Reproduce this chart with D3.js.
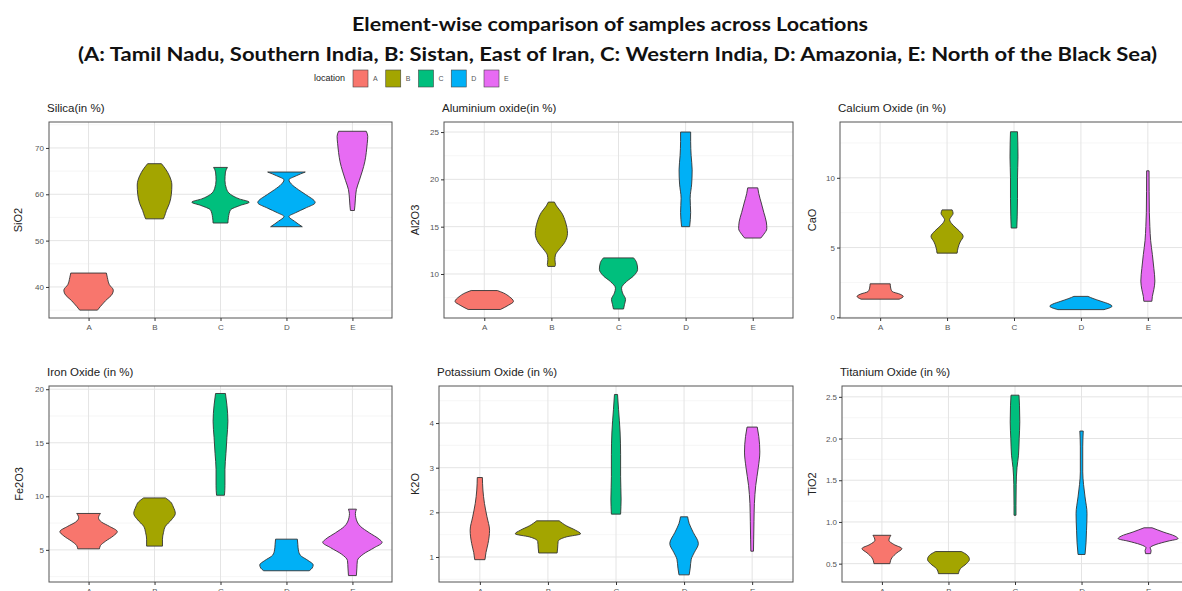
<!DOCTYPE html>
<html>
<head>
<meta charset="utf-8">
<script src="https://cdn.jsdelivr.net/npm/d3@7"></script>
<style>
  body { margin: 0; background: #fff; }
  svg { display: block; }
  .tick-label { font-family: "Liberation Sans", Arial, sans-serif; font-size: 8px; fill: #555; }
  .panel-title { font-family: "Liberation Sans", Arial, sans-serif; font-size: 11.5px; fill: #222; }
  .axis-title { font-family: "Liberation Sans", Arial, sans-serif; font-size: 11px; fill: #222; }
  .main-title { font-family: Lato, "Open Sans", sans-serif; font-weight: 700; font-size: 18px; fill: #111; }
</style>
</head>
<body>
<div id="chart"></div>
<script>
// 地点与颜色
const locations = ['A', 'B', 'C', 'D', 'E'];
const locationColors = ['#F8766D', '#A3A500', '#00BF7D', '#00B0F6', '#E76BF3'];

const panelTitles = ['Silica(in %)', 'Aluminium oxide(in %)', 'Calcium Oxide (in %)',
                     'Iron Oxide (in %)', 'Potassium Oxide (in %)', 'Titanium Oxide (in %)'];
const axisTitles = ['SiO2', 'Al2O3', 'CaO', 'Fe2O3', 'K2O', 'TiO2'];
const yTicks = [[40, 50, 60, 70], [10, 15, 20, 25], [0, 5, 10],
                [5, 10, 15, 20], [1, 2, 3, 4], [0.5, 1.0, 1.5, 2.0, 2.5]];
const yDomains = [[33.3, 75.6], [5.35, 26.06], [-0.05, 14.0],
                  [2.0, 20.3], [0.44, 4.83], [0.28, 2.63]];

// 小提琴轮廓: [数值, 相对密度(0-30)]，按 A..E 顺序
const silicaViolins = [
  [[43.0, 18], [42, 19], [40.5, 21], [39.3, 25], [38.5, 24], [37, 17], [35.8, 12], [35.0, 9]],
  [[66.6, 7], [65.5, 11], [64, 15], [62, 17.5], [60, 17], [58, 15], [56.5, 12], [55.2, 10], [54.7, 9]],
  [[65.8, 7], [64.8, 5], [63, 4.5], [61.2, 6], [60, 10], [59, 19], [58.3, 29], [57.6, 20], [56.6, 10], [55, 8], [53.8, 7.5]],
  [[64.8, 19], [64.0, 10], [63.1, 2.5], [62.2, 5], [61, 12], [60, 19], [58.2, 29], [57, 19], [56, 9], [55.2, 2.5], [54.2, 8], [53.0, 16]],
  [[73.6, 14], [72.5, 15.5], [71, 15], [69, 14], [67, 12.5], [65, 10], [63, 7], [61, 4], [59, 3], [57.5, 2.5], [56.5, 2]]
];
const aluminaViolins = [
  [[8.25, 13], [8.0, 19], [7.6, 25], [7.1, 29], [6.7, 24], [6.25, 16]],
  [[17.6, 3], [17.2, 5], [16.5, 10], [15.5, 14], [14.3, 16], [13.3, 13], [12.5, 7], [12.0, 4], [11.5, 3.5], [11.0, 4], [10.8, 3.5]],
  [[11.7, 15], [11.2, 18], [10.5, 19], [9.8, 15], [9.2, 8], [8.5, 3], [8.0, 4], [7.3, 7], [6.8, 6], [6.3, 5]],
  [[25.0, 5], [24, 5], [22.5, 5.5], [21, 6.5], [19.5, 6], [18, 4.5], [16.5, 5], [15.0, 4]],
  [[19.1, 5], [18.5, 6], [17.5, 8.5], [16.5, 11], [15.5, 13.5], [14.8, 14], [14.2, 11], [13.8, 8]]
];
const calciumViolins = [
  [[2.4, 10], [2.1, 10.5], [1.85, 12], [1.65, 20], [1.5, 23], [1.3, 19]],
  [[7.7, 5], [7.45, 6], [7.2, 4], [7.0, 2.5], [6.6, 6], [6.2, 12], [5.8, 16], [5.4, 13], [5.0, 11], [4.6, 10]],
  [[13.3, 3.5], [12.5, 3.8], [11.5, 4], [10, 3.5], [8.5, 3.5], [7.2, 3.2], [6.4, 2.8]],
  [[1.5, 7], [1.35, 12], [1.15, 20], [0.95, 28], [0.8, 31], [0.55, 23]],
  [[10.5, 1.2], [9, 1.3], [7.5, 1.5], [6.5, 2], [5.5, 2.8], [4.5, 4.5], [3.5, 6], [2.6, 7], [2.0, 6], [1.5, 4.5], [1.15, 4]]
];
const ironViolins = [
  [[8.4, 12], [8.0, 10], [7.6, 13], [7.2, 21], [6.7, 29], [6.3, 25], [5.8, 17], [5.4, 12], [5.1, 11]],
  [[9.85, 11], [9.5, 16], [9.0, 19], [8.4, 21], [7.8, 17], [7.2, 11], [6.6, 9], [6.0, 8], [5.35, 8]],
  [[19.6, 5], [18.5, 6.5], [17, 7.5], [15.5, 6.5], [14, 5.5], [12.5, 4.5], [11, 4.5], [10.1, 4]],
  [[6.0, 11], [5.5, 11.5], [5.0, 12], [4.5, 14], [4.0, 22], [3.6, 27], [3.3, 26], [3.05, 23]],
  [[8.8, 4], [8.4, 3], [8.0, 3.5], [7.2, 8], [6.6, 17], [6.0, 27], [5.7, 30], [5.2, 22], [4.6, 11], [4.0, 5], [3.3, 4.5], [2.6, 4]]
];
const potassiumViolins = [
  [[2.78, 2.5], [2.5, 3], [2.2, 4.5], [1.9, 7], [1.6, 9.5], [1.3, 8], [1.1, 6], [0.94, 5]],
  [[1.81, 11], [1.7, 18], [1.6, 27], [1.52, 32], [1.45, 18], [1.35, 10], [1.2, 9.5], [1.09, 9]],
  [[4.64, 1.5], [4.3, 2.5], [3.8, 4], [3.3, 4.5], [2.8, 4.5], [2.3, 5], [1.96, 4.5]],
  [[1.9, 3.5], [1.75, 5], [1.55, 9], [1.3, 14], [1.1, 10], [0.95, 7], [0.75, 6], [0.6, 5]],
  [[3.91, 5], [3.7, 6.5], [3.35, 7.5], [3.0, 6], [2.6, 3.5], [2.2, 2.2], [1.8, 1.8], [1.4, 1.5], [1.13, 1.3]]
];
const titaniumViolins = [
  [[0.84, 9], [0.78, 7], [0.73, 12], [0.68, 20], [0.63, 15], [0.57, 10], [0.5, 8]],
  [[0.645, 13], [0.6, 19], [0.55, 21], [0.5, 18], [0.44, 12], [0.38, 10]],
  [[2.52, 4], [2.4, 4.5], [2.2, 4.8], [2.0, 4.2], [1.8, 3.5], [1.65, 2], [1.45, 1.2], [1.2, 1], [1.08, 1]],
  [[2.09, 1.7], [1.9, 1.2], [1.6, 1.2], [1.45, 2], [1.3, 3.5], [1.1, 5.5], [0.9, 5], [0.75, 4.5], [0.61, 3.5]],
  [[0.93, 4], [0.88, 15], [0.83, 27], [0.8, 30], [0.77, 20], [0.73, 8], [0.69, 2], [0.66, 3], [0.62, 2.5]]
];

const allViolins = [silicaViolins, aluminaViolins, calciumViolins, ironViolins, potassiumViolins, titaniumViolins];

// 面板位置 (绘图区)
const panelBoxes = [
  { left: 49, right: 392, top: 122, bottom: 318 },
  { left: 444, right: 793, top: 122, bottom: 318 },
  { left: 840, right: 1188, top: 122, bottom: 318 },
  { left: 49, right: 392, top: 386, bottom: 582 },
  { left: 439, right: 793, top: 386, bottom: 582 },
  { left: 842, right: 1188, top: 386, bottom: 582 }
];
const axisTitleX = [18, 415, 812, 19, 415, 812];

const W = 1182, H = 591;
const svg = d3.select('#chart').append('svg').attr('width', W).attr('height', H);

// 标题
function fitText(sel, width) {
  sel.attr('textLength', width).attr('lengthAdjust', 'spacingAndGlyphs');
}
svg.append('text').attr('class', 'main-title')
  .attr('x', 352).attr('y', 31)
  .text('Element-wise comparison of samples across Locations')
  .call(fitText, 516);
svg.append('text').attr('class', 'main-title')
  .attr('x', 78).attr('y', 61)
  .text('(A: Tamil Nadu, Southern India, B: Sistan, East of Iran, C: Western India, D: Amazonia, E: North of the Black Sea)')
  .call(fitText, 1079);

// 图例
const legend = svg.append('g');
legend.append('text').attr('class', 'tick-label')
  .attr('x', 345).attr('y', 81).attr('text-anchor', 'end')
  .style('font-size', '9px').style('fill', '#222')
  .text('location');
const legendX = d3.scalePoint().domain(locations).range([353, 484]);
locations.forEach((loc, i) => {
  legend.append('rect')
    .attr('x', legendX(loc)).attr('y', 70)
    .attr('width', 15).attr('height', 17)
    .attr('fill', locationColors[i])
    .attr('stroke', '#444').attr('stroke-width', 0.6);
  legend.append('text').attr('class', 'tick-label')
    .attr('x', legendX(loc) + 20).attr('y', 81)
    .style('font-size', '7px')
    .text(loc);
});

function drawPanel(idx) {
  const box = panelBoxes[idx];
  const g = svg.append('g');

  const x = d3.scalePoint().domain(locations).range([box.left, box.right]).padding(0.6);
  const y = d3.scaleLinear().domain(yDomains[idx]).range([box.bottom, box.top]);
  const density = d3.scaleLinear().domain([0, 30]).range([0, x.step() * 0.45]);

  const clipId = 'clip' + idx;
  g.append('clipPath').attr('id', clipId).append('rect')
    .attr('x', box.left).attr('y', box.top)
    .attr('width', box.right - box.left).attr('height', box.bottom - box.top);

  // 网格
  const ticks = yTicks[idx];
  const step = ticks[1] - ticks[0];
  const minor = d3.range(ticks[0] - step / 2, yDomains[idx][1], step)
    .filter(v => v > yDomains[idx][0] && v < yDomains[idx][1]);
  const grid = g.append('g').attr('clip-path', `url(#${clipId})`);
  grid.selectAll('.minor').data(minor).enter().append('line')
    .attr('x1', box.left).attr('x2', box.right)
    .attr('y1', d => y(d)).attr('y2', d => y(d))
    .attr('stroke', '#f0f0f0').attr('stroke-width', 0.6);
  grid.selectAll('.major').data(ticks).enter().append('line')
    .attr('x1', box.left).attr('x2', box.right)
    .attr('y1', d => y(d)).attr('y2', d => y(d))
    .attr('stroke', '#e4e4e4').attr('stroke-width', 1);
  grid.selectAll('.vmajor').data(locations).enter().append('line')
    .attr('x1', d => x(d)).attr('x2', d => x(d))
    .attr('y1', box.top).attr('y2', box.bottom)
    .attr('stroke', '#e4e4e4').attr('stroke-width', 1);

  // 小提琴
  const area = d3.area()
    .y(d => y(d[0]))
    .curve(d3.curveMonotoneY);
  const violins = g.append('g').attr('clip-path', `url(#${clipId})`);
  allViolins[idx].forEach((profile, i) => {
    const cx = x(locations[i]);
    const pts = [...profile].sort((a, b) => a[0] - b[0]);
    violins.append('path')
      .datum(pts)
      .attr('d', area.x0(d => cx - density(d[1])).x1(d => cx + density(d[1])))
      .attr('fill', locationColors[i])
      .attr('stroke', '#333')
      .attr('stroke-width', 0.9);
  });

  // 边框
  g.append('rect')
    .attr('x', box.left).attr('y', box.top)
    .attr('width', box.right - box.left).attr('height', box.bottom - box.top)
    .attr('fill', 'none').attr('stroke', '#555').attr('stroke-width', 1);

  // 坐标轴 (下排的 x 标签和原图一样被画布底边截断)
  const fmt = idx === 5 ? d3.format('.1f') : d3.format('d');
  const yAxis = g.append('g')
    .attr('transform', `translate(${box.left},0)`)
    .call(d3.axisLeft(y).tickValues(ticks).tickSize(3).tickPadding(2).tickFormat(fmt));
  const xAxis = g.append('g')
    .attr('transform', `translate(0,${box.bottom})`)
    .call(d3.axisBottom(x).tickSize(3).tickPadding(3));
  [yAxis, xAxis].forEach(ax => {
    ax.select('.domain').remove();
    ax.selectAll('.tick line').attr('stroke', '#333');
    ax.selectAll('.tick text').attr('class', 'tick-label').attr('fill', null);
  });

  // 面板标题 & 轴标题
  g.append('text').attr('class', 'panel-title')
    .attr('x', box.left - 2).attr('y', box.top - 10)
    .text(panelTitles[idx]);
  g.append('text').attr('class', 'axis-title')
    .attr('transform', `translate(${axisTitleX[idx]},${(box.top + box.bottom) / 2}) rotate(-90)`)
    .attr('text-anchor', 'middle').attr('dy', '0.35em')
    .text(axisTitles[idx]);
}

panelBoxes.forEach((_, i) => drawPanel(i));
</script>
</body>
</html>
